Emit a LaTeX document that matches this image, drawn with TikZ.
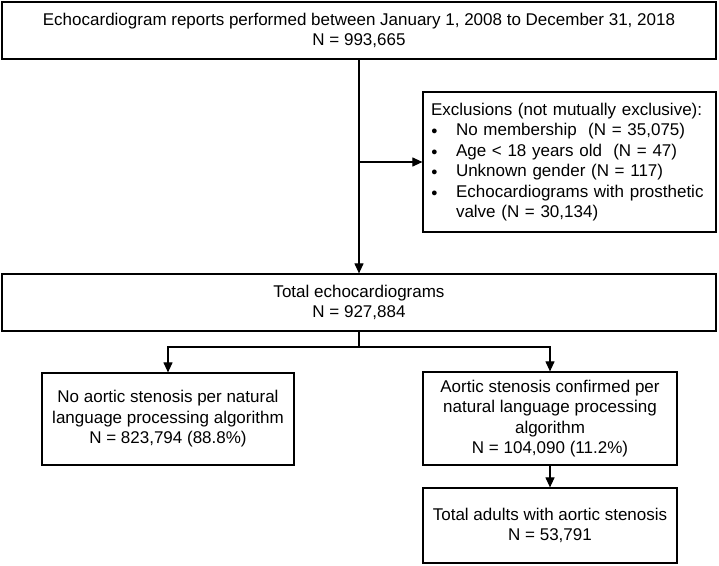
\documentclass[tikz,border=0pt]{standalone}
\usepackage{fontspec}
\setmainfont{Liberation Sans}
\usetikzlibrary{arrows.meta,positioning}
\definecolor{ink}{HTML}{000000}
\newcommand{\bul}{\makebox[25pt][l]{\raisebox{1pt}{\fontsize{11}{11}\selectfont ●}}}
\tikzset{
  box/.style={draw=ink, fill=white, line width=1.2pt, align=center,
              inner sep=4pt, font=\fontsize{17}{20.5}\selectfont},
  ar/.style={-{Triangle[length=10pt,width=9pt]}, line width=1.1pt, draw=ink},
  ln/.style={line width=1.1pt, draw=ink}
}
\begin{document}
\begin{tikzpicture}[x=1pt,y=-1pt]
  \useasboundingbox (0,0) rectangle (719,565);
  \node[box, minimum width=714pt, minimum height=57pt] (reports) at (359,30.5)
      {Echocardiogram reports performed between January 1, 2008 to December 31, 2018\\N = 993,665};
  \node[box, align=left, text width=277pt, inner xsep=8pt, minimum height=140pt] (excl) at (569.5,162)
      {Exclusions (not mutually exclusive):\\
       \bul No membership\ \ (N = 35,075)\\
       \bul Age < 18 years old\ \ (N = 47)\\
       \bul Unknown gender (N = 117)\\
       \bul Echocardiograms with prosthetic\\
       \hspace*{25pt}valve (N = 30,134)};
  \node[box, minimum width=714pt, minimum height=57pt] (total) at (359,302.5)
      {Total echocardiograms\\N = 927,884};
  \node[box, minimum width=252pt, minimum height=92pt] (noAS) at (168,419)
      {No aortic stenosis per natural\\language processing algorithm\\N = 823,794 (88.8\%)};
  \node[box, minimum width=254pt, minimum height=93pt] (AS) at (550,418.5)
      {Aortic stenosis confirmed per\\natural language processing\\algorithm\\N = 104,090 (11.2\%)};
  \node[box, minimum width=254pt, minimum height=75pt] (adults) at (550,525.5)
      {Total adults with aortic stenosis\\N = 53,791};

  \coordinate (split) at (359,347);
  \draw[ar] (reports) -- (total);
  \draw[ar] (reports.south |- excl.west) -- (excl.west);
  \draw[ln] (total) -- (split);
  \draw[ar] (split) -| (noAS);
  \draw[ar] (split) -| (AS);
  \draw[ar] (AS) -- (adults);
\end{tikzpicture}
\end{document}
